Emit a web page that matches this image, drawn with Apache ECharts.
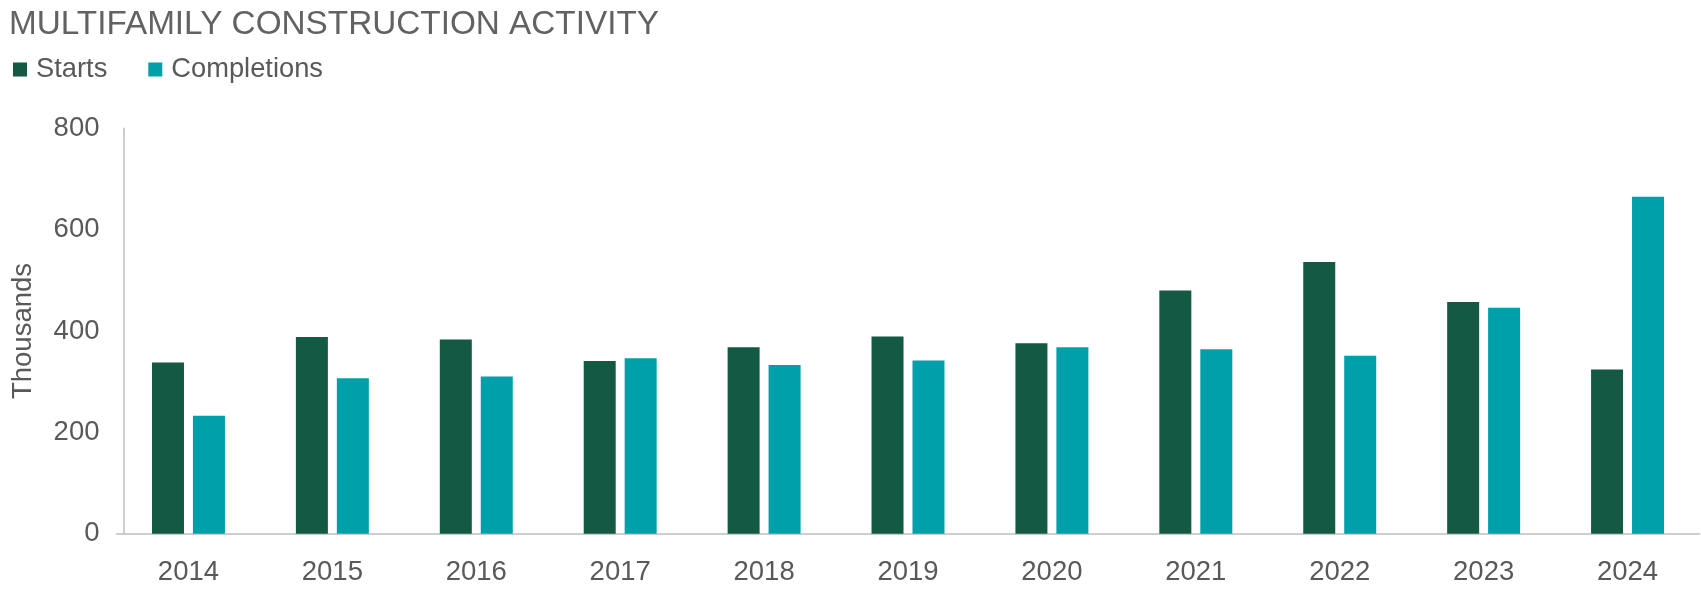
<!DOCTYPE html>
<html>
<head>
<meta charset="utf-8">
<script src="https://cdn.jsdelivr.net/npm/echarts@6/dist/echarts.min.js"></script>
<style>
html,body{margin:0;padding:0;background:#fff;}
#chart{width:1701px;height:601px;}
</style>
</head>
<body>
<div id="chart"></div>
<script>
var categories = ['2014','2015','2016','2017','2018','2019','2020','2021','2022','2023','2024'];
var starts = [338, 388, 383, 341, 368, 389, 376, 480, 536, 457, 324];
var completions = [233, 307, 310, 346, 333, 342, 368, 364, 351, 446, 665];
var yTicks = [0, 200, 400, 600, 800];

var FONT = '"Liberation Sans", Arial, sans-serif';
var chart = echarts.init(document.getElementById('chart'), null, {renderer: 'canvas'});
chart.setOption({
  animation: false,
  title: {
    text: 'MULTIFAMILY CONSTRUCTION ACTIVITY',
    left: 9, top: 8, padding: 0,
    textStyle: {fontFamily: FONT, fontSize: 33.3, fontWeight: 'normal', color: '#626262'}
  },
  legend: {
    left: 13, top: 56, padding: 0,
    itemWidth: 14, itemHeight: 14, itemGap: 41,
    icon: 'rect',
    textStyle: {fontFamily: FONT, fontSize: 27.3, color: '#595959', padding: [0, 0, 0, 4]},
    data: ['Starts', 'Completions']
  },
  grid: {left: 116.5, right: 1.5, top: 128.3, bottom: 67.3, containLabel: false},
  xAxis: {
    type: 'category',
    data: categories,
    axisLine: {show: true, lineStyle: {color: '#bfbfbf', width: 1.5}},
    axisTick: {show: false},
    axisLabel: {fontFamily: FONT, fontSize: 27.5, color: '#595959', margin: 25}
  },
  yAxis: {
    type: 'value',
    min: yTicks[0], max: yTicks[yTicks.length - 1], interval: 200,
    offset: -7,
    name: 'Thousands',
    nameLocation: 'middle',
    nameRotate: 90,
    nameGap: 86,
    nameTextStyle: {fontFamily: FONT, fontSize: 27.5, color: '#595959'},
    axisLine: {show: true, lineStyle: {color: '#bfbfbf', width: 1.5}},
    axisTick: {show: false},
    splitLine: {show: false},
    axisLabel: {fontFamily: FONT, fontSize: 27.5, color: '#595959', margin: 24}
  },
  series: [
    {name: 'Starts', type: 'bar', data: starts, barWidth: 32, barGap: '28%',
     itemStyle: {color: '#135943'}},
    {name: 'Completions', type: 'bar', data: completions, barWidth: 32, barGap: '28%',
     itemStyle: {color: '#00a0aa'}}
  ]
});
</script>
</body>
</html>
